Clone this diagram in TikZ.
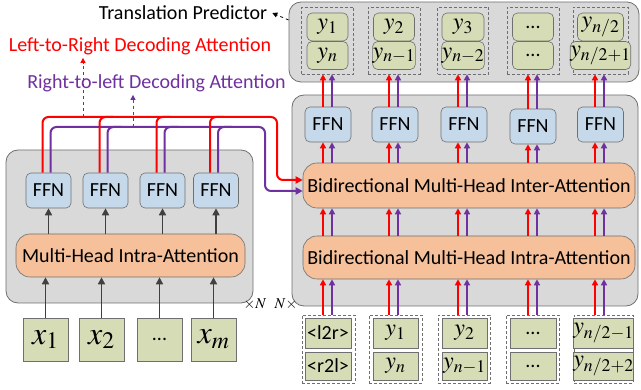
\documentclass[tikz,border=0pt]{standalone}
\usepackage{mathptmx}
\usepackage[no-math]{fontspec}
\setmainfont{Carlito}
\usetikzlibrary{arrows.meta,calc}
\definecolor{boxgray}{HTML}{D9D9D9}
\definecolor{edgegray}{HTML}{6F6F6F}
\definecolor{ffnblue}{HTML}{C6D9EB}
\definecolor{attorange}{HTML}{F5C09A}
\definecolor{tokgreen}{HTML}{D6DDB6}
\definecolor{lrred}{HTML}{FF0000}
\definecolor{rlpurple}{HTML}{7030A0}
\definecolor{arrgray}{HTML}{404040}
\begin{document}
\begin{tikzpicture}[x=1pt,y=-1pt,
  graybox/.style={draw=edgegray, fill=boxgray, rounded corners=12pt, line width=0.8pt, inner sep=0pt},
  ffnbox/.style={draw=edgegray, fill=ffnblue, rounded corners=5pt, minimum width=45pt, minimum height=35pt, inner sep=0pt, line width=0.6pt, font=\fontsize{20}{20}\selectfont},
  attbox/.style={draw=edgegray, fill=attorange, rounded corners=14pt, inner sep=0pt, line width=0.6pt, font=\fontsize{20}{20}\selectfont},
  xtok/.style={draw=edgegray, fill=tokgreen, minimum width=45pt, minimum height=43pt, inner sep=0pt, line width=0.6pt, font=\fontsize{32}{32}\selectfont},
  ytokr/.style={draw=edgegray, fill=tokgreen, rounded corners=5pt, minimum height=28pt, inner sep=0pt, line width=0.6pt, font=\fontsize{24}{24}\selectfont},
  ytoks/.style={draw=edgegray, fill=tokgreen, inner sep=0pt, line width=0.6pt, font=\fontsize{24}{24}\selectfont},
  dots/.style={font=\fontsize{20}{20}\selectfont},
  grp/.style={draw=edgegray, densely dashed, line width=0.6pt, inner sep=0pt},
  garrow/.style={draw=arrgray, line width=1.5pt, -{Triangle[length=7pt,width=7pt]}},
  rarrow/.style={draw=lrred, line width=1.6pt, -{Triangle[length=6pt,width=6pt]}},
  parrow/.style={draw=rlpurple, line width=1.6pt, -{Triangle[length=6pt,width=6pt]}},
  rline/.style={draw=lrred, line width=2pt, rounded corners=6pt},
  pline/.style={draw=rlpurple, line width=2pt, rounded corners=6pt},
  lbl/.style={inner sep=0pt, font=\fontsize{20}{20}\selectfont},
]
\useasboundingbox (0,0) rectangle (641,390);

% ---------------- Encoder ----------------
\node[graybox, minimum width=247pt, minimum height=153pt] (enc) at (129.5,226.5) {};
\node[attbox, minimum width=229pt, minimum height=43pt] (mha) at (130.5,255.5) {Multi-Head Intra-Attention};
\foreach \i/\x in {1/48.5,2/105.5,3/162.5,4/216}{
  \node[ffnbox] (e\i) at (\x,190.5) {FFN};
}
\node[xtok] (x1) at (45.5,339.5) {$x_1$};
\node[xtok] (x2) at (101.5,339.5) {$x_2$};
\node[xtok, dots] (x3) at (159.5,339.5) {...};
\node[xtok] (x4) at (213.5,339.5) {$x_m$};
\foreach \i in {1,2,3,4}{
  \draw[garrow] (x\i.north) -- (x\i.north |- mha.south);
  \draw[garrow] (e\i.south |- mha.north) -- (e\i.south);
}
\node[inner sep=0pt, font=\fontsize{15}{15}\selectfont] (nl) at (255,304) {$\times N$};

% ---------------- Decoder ----------------
\node[graybox, minimum width=350pt, minimum height=80pt] (pred) at (464,42) {};
\node[graybox, minimum width=346pt, minimum height=211pt] (dec) at (465,200.5) {};
\node[attbox, minimum width=332pt, minimum height=45pt] (inter) at (469,185.5) {Bidirectional Multi-Head Inter-Attention};
\node[attbox, minimum width=332pt, minimum height=43pt] (intra) at (469,257.5) {Bidirectional Multi-Head Intra-Attention};
\node[inner sep=0pt, font=\fontsize{15}{15}\selectfont] (nr) at (286,304) {$N\times$};

\node[ffnbox, minimum width=46pt] (d1) at (328,124.5) {FFN};
\node[ffnbox, minimum width=46pt] (d2) at (395,124.5) {FFN};
\node[ffnbox, minimum width=46pt] (d3) at (464,124.5) {FFN};
\node[ffnbox, minimum width=46pt] (d4) at (533,126.5) {FFN};
\node[ffnbox, minimum width=46pt] (d5) at (600.5,124.5) {FFN};

% predictor groups
\node[grp, minimum width=52pt, minimum height=67pt] (p1) at (327.5,40.5) {};
\node[grp, minimum width=52pt, minimum height=67pt] (p2) at (394,40.5) {};
\node[grp, minimum width=51pt, minimum height=67pt] (p3) at (463,40.5) {};
\node[grp, minimum width=52pt, minimum height=67pt] (p4) at (533,40.5) {};
\node[grp, minimum width=55pt, minimum height=67pt] (p5) at (600.5,40.5) {};
\node[ytokr, minimum width=41pt] (pa1) at (327.5,27) {$y_1$};
\node[ytokr, minimum width=41pt] (pb1) at (327.5,55.5) {$y_n$};
\node[ytokr, minimum width=41pt] (pa2) at (394,27) {$y_2$};
\node[ytokr, minimum width=41pt] (pb2) at (394,55.5) {$y_{n-1}$};
\node[ytokr, minimum width=42pt] (pa3) at (463,27) {$y_3$};
\node[ytokr, minimum width=42pt] (pb3) at (463,55.5) {$y_{n-2}$};
\node[ytokr, minimum width=41pt, dots] (pa4) at (533,27) {...};
\node[ytokr, minimum width=41pt, dots] (pb4) at (533,55.5) {...};
\node[ytokr, minimum width=46pt] (pa5) at (600.5,27) {$y_{n/2}$};
\node[ytokr, minimum width=46pt] (pb5) at (600.5,55.5) {$y_{n/2+1}$};

% input groups
\node[grp, minimum width=53pt, minimum height=68pt] (g1) at (328.5,349) {};
\node[grp, minimum width=53pt, minimum height=68pt] (g2) at (395.5,349) {};
\node[grp, minimum width=52pt, minimum height=68pt] (g3) at (464,349) {};
\node[grp, minimum width=53pt, minimum height=68pt] (g4) at (532.5,349) {};
\node[grp, minimum width=59pt, minimum height=68pt] (g5) at (603.5,349) {};
\node[ytoks, minimum width=46pt, minimum height=30pt, dots] (ia1) at (328,333) {<l2r>};
\node[ytoks, minimum width=46pt, minimum height=28pt, dots] (ib1) at (328,366) {<r2l>};
\node[ytoks, minimum width=45pt, minimum height=30pt] (ia2) at (395.5,333) {$y_1$};
\node[ytoks, minimum width=45pt, minimum height=28pt] (ib2) at (395.5,366) {$y_n$};
\node[ytoks, minimum width=45pt, minimum height=30pt] (ia3) at (464.5,333) {$y_2$};
\node[ytoks, minimum width=45pt, minimum height=28pt] (ib3) at (464.5,366) {$y_{n-1}$};
\node[ytoks, minimum width=46pt, minimum height=30pt, dots] (ia4) at (533,333) {...};
\node[ytoks, minimum width=46pt, minimum height=28pt, dots] (ib4) at (533,366) {...};
\node[ytoks, minimum width=49pt, minimum height=30pt] (ia5) at (603.5,333) {$y_{n/2-1}$};
\node[ytoks, minimum width=49pt, minimum height=28pt] (ib5) at (603.5,366) {$y_{n/2+2}$};

% decoder column arrows
\foreach \i/\cx in {1/328,2/394,3/463,4/533,5/600}{
  \coordinate (r\i) at (\cx-5,0);
  \coordinate (q\i) at (\cx+4,0);
  \draw[rarrow] (r\i |- g\i.north) -- (r\i |- intra.south);
  \draw[parrow] (q\i |- g\i.north) -- (q\i |- intra.south);
  \draw[rarrow] (r\i |- intra.north) -- (r\i |- inter.south);
  \draw[parrow] (q\i |- intra.north) -- (q\i |- inter.south);
  \draw[rarrow] (r\i |- inter.north) -- (r\i |- d\i.south);
  \draw[parrow] (q\i |- inter.north) -- (q\i |- d\i.south);
  \draw[rarrow] (r\i |- d\i.north) -- (r\i |- p\i.south);
  \draw[parrow] (q\i |- d\i.north) -- (q\i |- p\i.south);
}

% ---------------- Encoder-to-decoder routing ----------------
\foreach \i in {1,2,3,4}{
  \coordinate (er\i) at ([xshift=-6pt]e\i.north);
  \coordinate (ep\i) at ([xshift=2pt]e\i.north);
}
\coordinate (rY) at (0,117);
\coordinate (pY) at (0,127);
\draw[pline, -{Triangle[length=7pt,width=7pt]}] (ep1) |- (265,127) |- ([yshift=-5.5pt]inter.west);
\foreach \i in {2,3,4}{
  \draw[pline] (ep\i) |- ($(ep\i |- pY)+(14,0)$);
}
\draw[rline, -{Triangle[length=7pt,width=7pt]}] (er1) |- (277,117) |- ([yshift=5.5pt]inter.west);
\foreach \i in {2,3,4}{
  \draw[rline] (er\i) |- ($(er\i |- rY)+(14,0)$);
}

% labels
\node[lbl, text=lrred] (lrl) at (140,46) {Left-to-Right Decoding Attention};
\node[lbl, text=rlpurple] (rll) at (156.5,83) {Right-to-left Decoding Attention};
\node[lbl] (tpl) at (183,13) {Translation Predictor};
\coordinate (lrfoot) at (83,117);
\coordinate (rlfoot) at (133,127);
\draw[lrred, dashed, line width=1pt, -{Triangle[length=5pt,width=5pt]}] (lrfoot) -- ([yshift=-3pt]lrfoot |- lrl.south);
\draw[rlpurple, dashed, line width=1pt, -{Triangle[length=5pt,width=5pt]}] (rlfoot) -- ([yshift=-3pt]rlfoot |- rll.south);
\draw[black, dashed, line width=0.8pt, -{Triangle[length=5pt,width=5pt]}] (pred.west |- 0,20) -- ([xshift=5pt]tpl.east);
\end{tikzpicture}
\end{document}
